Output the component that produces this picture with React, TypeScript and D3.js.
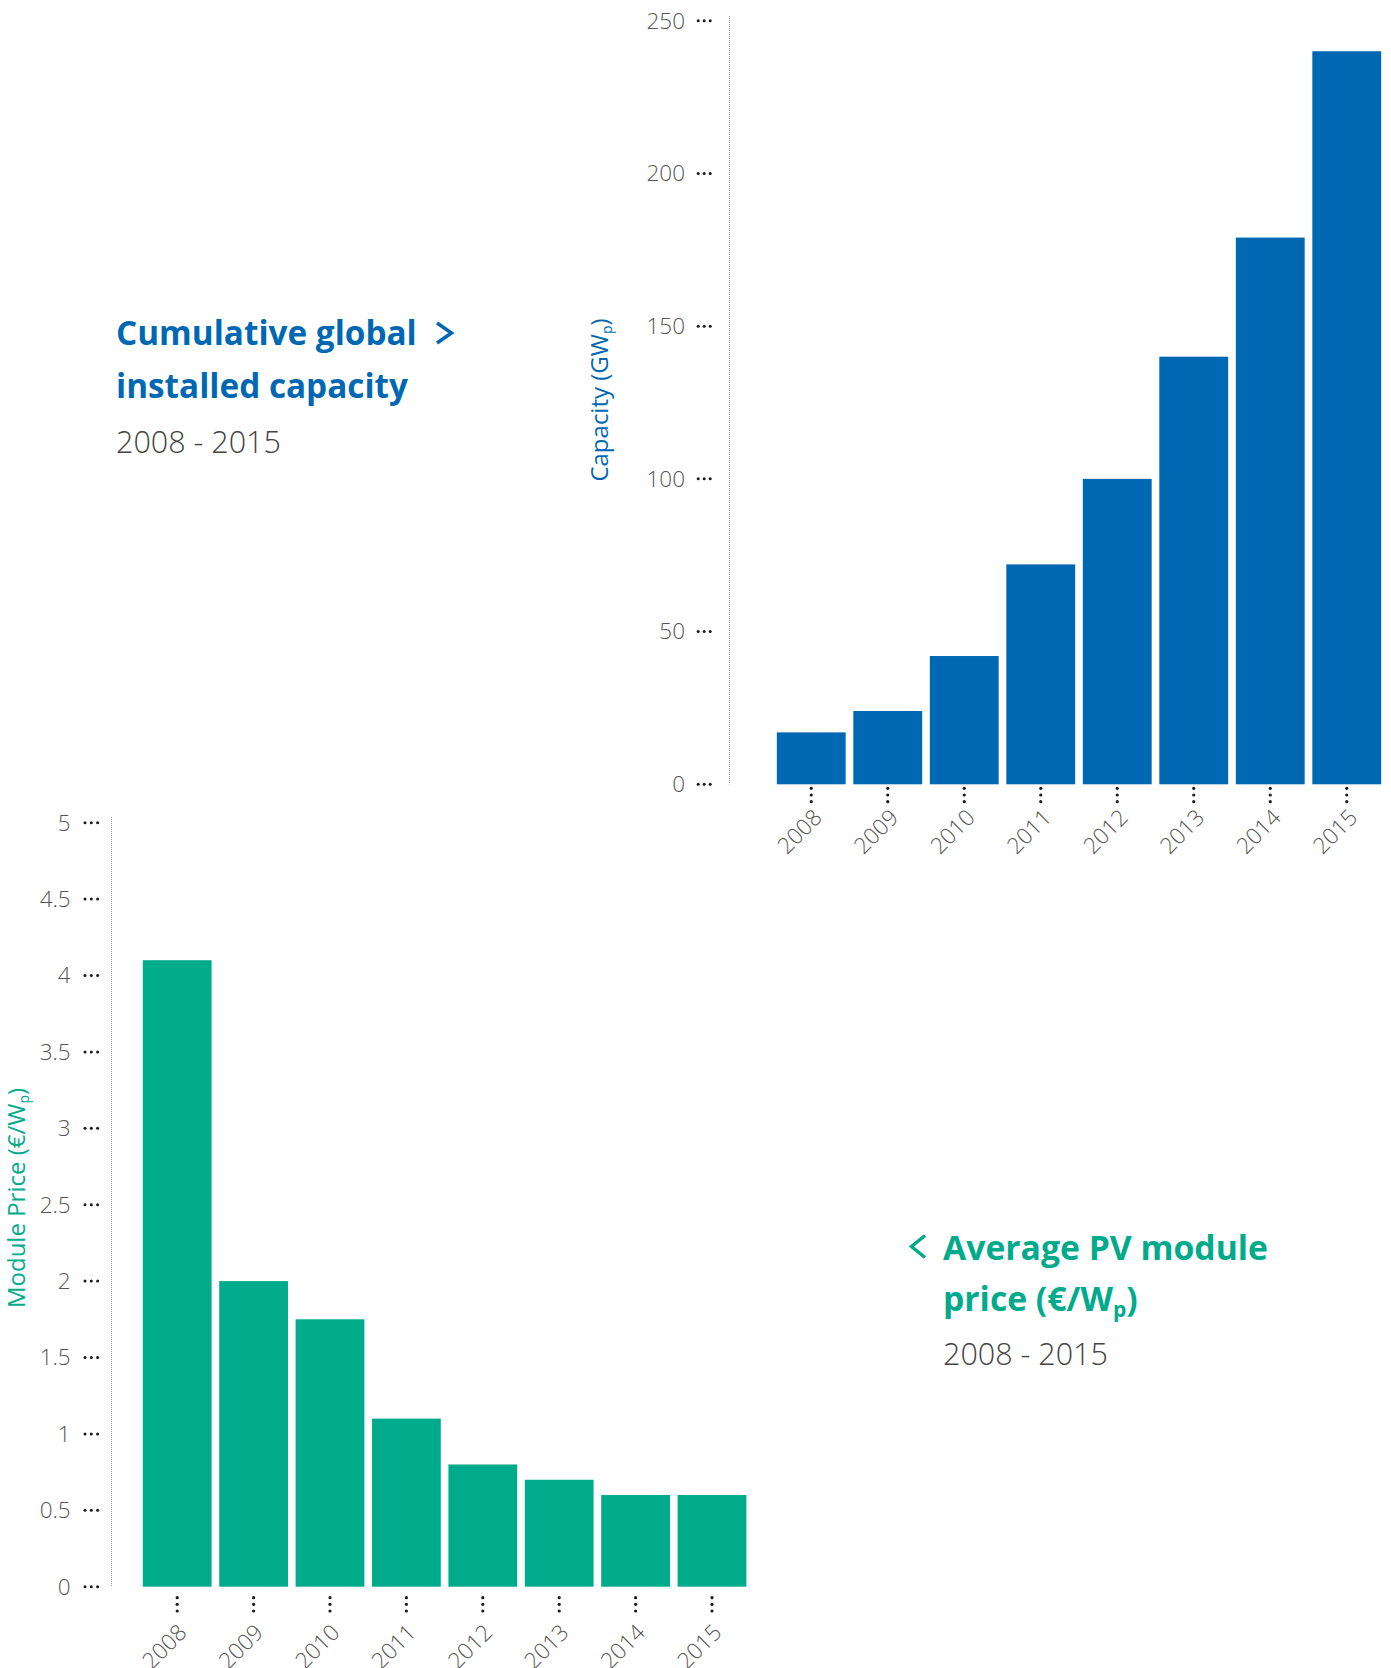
import React from "react";
import * as d3 from "d3";

// Cumulative global installed PV capacity (GWp), 2008–2015
const years = ["2008", "2009", "2010", "2011", "2012", "2013", "2014", "2015"];
const capacityGW = [17, 24, 42, 72, 100, 140, 179, 240];
const capacityTicks = [0, 50, 100, 150, 200, 250];

// Average PV module price (€/Wp), 2008–2015
const moduleYears = ["2008", "2009", "2010", "2011", "2012", "2013", "2014", "2015"];
const modulePrice = [4.1, 2.0, 1.75, 1.1, 0.8, 0.7, 0.6, 0.6];
const priceTicks = [0, 0.5, 1, 1.5, 2, 2.5, 3, 3.5, 4, 4.5, 5];

const BLUE = "#0068b2";
const GREEN = "#00ab8c";
const TICK_TEXT = "#555555";
const DARK = "#444444";
const FONT = "'Open Sans', 'Noto Sans', sans-serif";

type PanelProps = {
  cats: string[];
  values: number[];
  ticks: number[];
  domainMax: number;
  yRange: [number, number];
  xRange: [number, number];
  axisX: number;
  axisTop: number;
  tickDotX: number[];
  tickLabelX: number;
  catDotY: number[];
  catLabelDx: number;
  catLabelY: number;
  color: string;
  fmt: (v: number) => string;
};

function BarPanel(p: PanelProps) {
  const y = d3.scaleLinear().domain([0, p.domainMax]).range(p.yRange);
  const x = d3
    .scaleBand<string>()
    .domain(p.cats)
    .range(p.xRange)
    .paddingInner(0.1)
    .paddingOuter(0.05);
  const y0 = y(0);
  return (
    <g>
      {/* dotted value axis */}
      <line
        x1={p.axisX}
        x2={p.axisX}
        y1={p.axisTop}
        y2={y0}
        stroke="#9a9a9a"
        strokeWidth={1}
        strokeDasharray="1,1"
      />
      {p.ticks.map((t) => (
        <g key={"t" + t}>
          {p.tickDotX.map((dx, i) => (
            <circle key={i} cx={dx} cy={y(t)} r={1.5} fill="#1a1a1a" />
          ))}
          <text
            x={p.tickLabelX}
            y={y(t)}
            dy="0.35em"
            textAnchor="end"
            fontFamily={FONT}
            fontWeight={300}
            fontSize={22.5}
            fill={TICK_TEXT}
          >
            {p.fmt(t)}
          </text>
        </g>
      ))}
      {p.cats.map((c, i) => {
        const bx = x(c) as number;
        const cx = bx + x.bandwidth() / 2;
        return (
          <g key={c}>
            <rect
              x={bx}
              y={y(p.values[i])}
              width={x.bandwidth()}
              height={y0 - y(p.values[i])}
              fill={p.color}
            />
            {p.catDotY.map((dy, j) => (
              <circle key={j} cx={cx} cy={dy} r={1.6} fill="#1a1a1a" />
            ))}
            <text
              transform={`translate(${cx + p.catLabelDx},${p.catLabelY}) rotate(-45)`}
              textAnchor="end"
              fontFamily={FONT}
              fontWeight={300}
              fontSize={22.5}
              fill={TICK_TEXT}
            >
              {c}
            </text>
          </g>
        );
      })}
    </g>
  );
}

export default function App() {
  return (
    <svg
      width={1391}
      height={1668}
      style={{ position: "absolute", left: 0, top: 0, background: "#fff" }}
    >
      {/* Capacity panel */}
      <BarPanel
        cats={years}
        values={capacityGW}
        ticks={capacityTicks}
        domainMax={250}
        yRange={[784.3, 20.7]}
        xRange={[773, 1385]}
        axisX={729.5}
        axisTop={16}
        tickDotX={[698.2, 704.2, 710.2]}
        tickLabelX={685}
        catDotY={[788.3, 795, 801.7]}
        catLabelDx={12}
        catLabelY={819}
        color={BLUE}
        fmt={(v) => String(v)}
      />
      <text
        transform="translate(608,400) rotate(-90)"
        textAnchor="middle"
        fontFamily={FONT}
        fontSize={24}
        fill={BLUE}
      >
        Capacity (GW
        <tspan fontSize={14} dy={4}>p</tspan>
        <tspan dy={-4}>)</tspan>
      </text>

      <text fontFamily={FONT} fontWeight={700} fontSize={33.3} fill={BLUE}>
        <tspan x={116} y={345}>Cumulative global</tspan>
        <tspan x={116} y={398}>installed capacity</tspan>
      </text>
      <polyline
        points="437,323 451.5,333 437,343"
        fill="none"
        stroke={BLUE}
        strokeWidth={3.5}
      />
      <text
        x={116}
        y={453}
        fontFamily={FONT}
        fontWeight={300}
        fontSize={30.5}
        fill={DARK}
      >
        2008 - 2015
      </text>

      {/* Module price panel */}
      <BarPanel
        cats={moduleYears}
        values={modulePrice}
        ticks={priceTicks}
        domainMax={5}
        yRange={[1586.7, 822.7]}
        xRange={[139, 750.2]}
        axisX={111.5}
        axisTop={817}
        tickDotX={[85, 91.3, 97.6]}
        tickLabelX={70.7}
        catDotY={[1597.7, 1604.3, 1611]}
        catLabelDx={11}
        catLabelY={1634}
        color={GREEN}
        fmt={(v) => String(v)}
      />
      <text
        transform="translate(25,1198) rotate(-90)"
        textAnchor="middle"
        fontFamily={FONT}
        fontSize={24}
        fill={GREEN}
      >
        Module Price (€/W
        <tspan fontSize={14} dy={4}>p</tspan>
        <tspan dy={-4}>)</tspan>
      </text>

      <polyline
        points="925,1235.5 911.5,1246.5 925,1257.5"
        fill="none"
        stroke={GREEN}
        strokeWidth={3.5}
      />
      <text fontFamily={FONT} fontWeight={700} fontSize={33.7} fill={GREEN}>
        <tspan x={943} y={1260}>Average PV module</tspan>
        <tspan x={943} y={1311}>
          price (€/W
          <tspan fontSize={21} dy={6}>p</tspan>
          <tspan dy={-6}>)</tspan>
        </tspan>
      </text>
      <text
        x={943}
        y={1365}
        fontFamily={FONT}
        fontWeight={300}
        fontSize={30.5}
        fill={DARK}
      >
        2008 - 2015
      </text>
    </svg>
  );
}
